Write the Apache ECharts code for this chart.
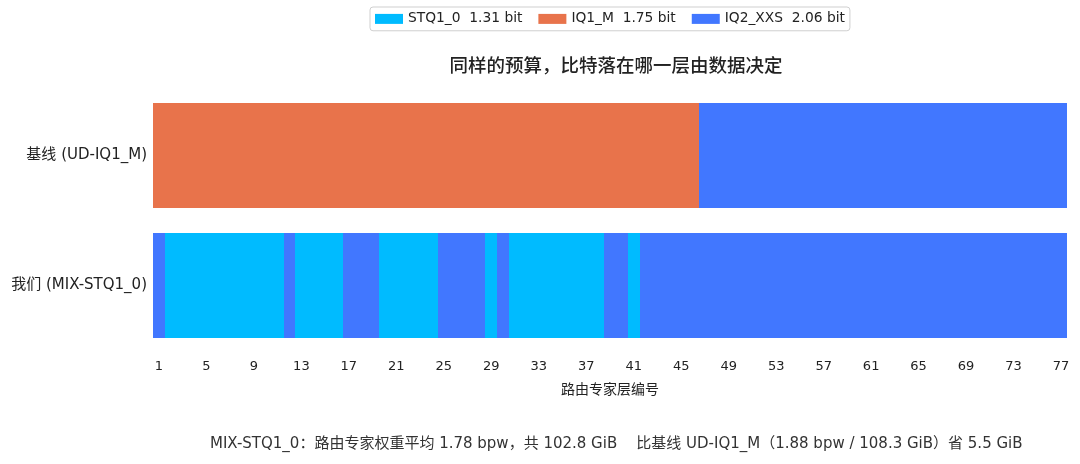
<!DOCTYPE html>
<html>
<head>
<meta charset="utf-8">
<script src="https://cdn.jsdelivr.net/npm/echarts@6/dist/echarts.min.js"></script>
<style>
  html, body { margin: 0; padding: 0; background: #fff; }
  #chart { width: 1080px; height: 464px; }
</style>
</head>
<body>
<div id="chart"></div>
<script>
// quant types: 0 = STQ1_0, 1 = IQ1_M, 2 = IQ2_XXS
const quantNames = ['STQ1_0', 'IQ1_M', 'IQ2_XXS']
const quantBits = [1.31, 1.75, 2.06]
const quantColors = ['#00BBFF', '#E8734B', '#4177FF']

const rowLabels = ['基线 (UD-IQ1_M)', '我们 (MIX-STQ1_0)']

// layer 1..77, per-layer quant type
const baselineLayers = [
  1, 1, 1, 1, 1, 1, 1, 1, 1, 1,
  1, 1, 1, 1, 1, 1, 1, 1, 1, 1,
  1, 1, 1, 1, 1, 1, 1, 1, 1, 1,
  1, 1, 1, 1, 1, 1, 1, 1, 1, 1,
  1, 1, 1, 1, 1, 1, 2, 2, 2, 2,
  2, 2, 2, 2, 2, 2, 2, 2, 2, 2,
  2, 2, 2, 2, 2, 2, 2, 2, 2, 2,
  2, 2, 2, 2, 2, 2, 2
]
const oursLayers = [
  2, 0, 0, 0, 0, 0, 0, 0, 0, 0,
  0, 2, 0, 0, 0, 0, 2, 2, 2, 0,
  0, 0, 0, 0, 2, 2, 2, 2, 0, 2,
  0, 0, 0, 0, 0, 0, 0, 0, 2, 2,
  0, 2, 2, 2, 2, 2, 2, 2, 2, 2,
  2, 2, 2, 2, 2, 2, 2, 2, 2, 2,
  2, 2, 2, 2, 2, 2, 2, 2, 2, 2,
  2, 2, 2, 2, 2, 2, 2
]

const titleText = '同样的预算，比特落在哪一层由数据决定'
const xName = '路由专家层编号'
const footerText = 'MIX-STQ1_0：路由专家权重平均 1.78 bpw，共 102.8 GiB    比基线 UD-IQ1_M（1.88 bpw / 108.3 GiB）省 5.5 GiB'

const layerLabels = baselineLayers.map((_, i) => String(i + 1))
const rows = [baselineLayers, oursLayers]

const cjk = '"Noto Sans CJK SC", "Noto Sans", sans-serif'
const wide = '"DejaVu Sans", "Noto Sans CJK SC", sans-serif'

const chart = echarts.init(document.getElementById('chart'))

const series = quantNames.map((name, q) => {
  const data = []
  rows.forEach((row, r) => {
    row.forEach((t, i) => { if (t === q) data.push([i, r]) })
  })
  return {
    name: name,
    type: 'custom',
    itemStyle: { color: quantColors[q] },
    encode: { x: 0, y: 1 },
    renderItem: function (params, api) {
      const c = api.coord([api.value(0), api.value(1)])
      const s = api.size([1, 1])
      const h = s[1] * 0.81
      const x0 = Math.round(c[0] - s[0] / 2)
      const x1 = Math.round(c[0] + s[0] / 2)
      const y0 = Math.round(c[1] - h / 2)
      const y1 = Math.round(c[1] + h / 2)
      return {
        type: 'rect',
        shape: { x: x0, y: y0, width: x1 - x0, height: y1 - y0 },
        style: { fill: api.visual('color') }
      }
    },
    data: data
  }
})

const option = {
  animation: false,
  title: {
    text: titleText,
    left: 611,
    textAlign: 'center',
    top: 51,
    textStyle: { fontFamily: cjk, fontSize: 18.5, fontWeight: 500, color: '#222' }
  },
  legend: {
    top: 7,
    left: 370,
    icon: 'rect',
    itemWidth: 28,
    itemHeight: 10,
    itemGap: 16,
    padding: [5, 5],
    borderColor: '#cfcfcf',
    borderWidth: 1,
    borderRadius: 3,
    data: quantNames,
    formatter: function (name) {
      const i = quantNames.indexOf(name)
      return name + '  ' + quantBits[i].toFixed(2) + ' bit'
    },
    textStyle: { fontFamily: wide, fontSize: 13.8, color: '#222' }
  },
  grid: { left: 153, right: 13, top: 90.5, bottom: 113.5 },
  xAxis: {
    type: 'category',
    data: layerLabels,
    name: xName,
    nameLocation: 'middle',
    nameGap: 31,
    nameTextStyle: { fontFamily: cjk, fontSize: 14, color: '#222' },
    axisLine: { show: false },
    axisTick: { show: false },
    axisLabel: { interval: 3, margin: 10, fontFamily: '"DejaVu Sans", sans-serif', fontSize: 13, color: '#222' },
    splitLine: { show: false }
  },
  yAxis: {
    type: 'category',
    data: rowLabels,
    inverse: true,
    axisLine: { show: false },
    axisTick: { show: false },
    axisLabel: { margin: 6, fontFamily: wide, fontSize: 15, color: '#222' },
    splitLine: { show: false }
  },
  graphic: [{
    type: 'text',
    left: 210,
    top: 437,
    style: { text: footerText, fontFamily: wide, fontSize: 15, fill: '#333' }
  }],
  series: series
}

chart.setOption(option)
</script>
</body>
</html>
